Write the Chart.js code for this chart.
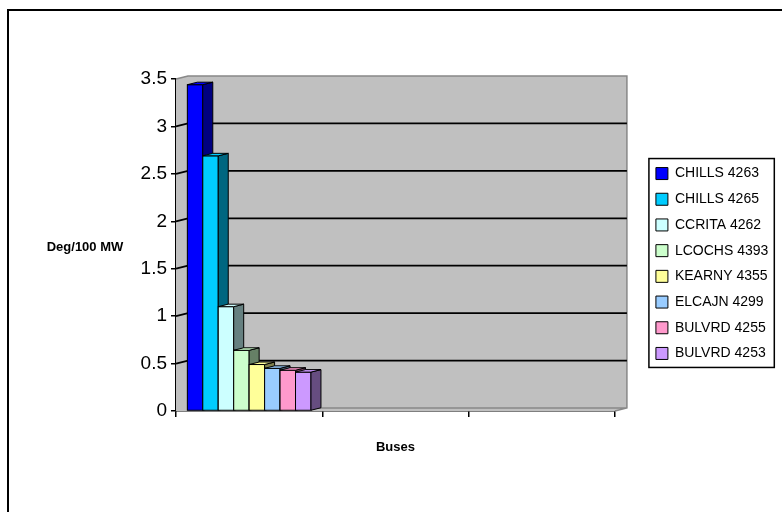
<!DOCTYPE html>
<html>
<head>
<meta charset="utf-8">
<script src="https://cdn.jsdelivr.net/npm/chart.js@4.4.0/dist/chart.umd.min.js"></script>
<style>
html, body { margin: 0; padding: 0; background: #fff; }
#wrap { position: relative; width: 782px; height: 512px; overflow: hidden; }
#frame { position: absolute; left: 7px; top: 9px; width: 800px; height: 600px;
         border-left: 2px solid #000; border-top: 2px solid #000; }
canvas { position: absolute; left: 0; top: 0; }
</style>
</head>
<body>
<div id="wrap">
  <div id="frame"></div>
  <canvas id="chartGraph" width="782" height="512"></canvas>
</div>
<script>
// data
const categories = ['', '', ''];
const busNames = ['CHILLS 4263', 'CHILLS 4265', 'CCRITA 4262', 'LCOCHS 4393',
                  'KEARNY 4355', 'ELCAJN 4299', 'BULVRD 4255', 'BULVRD 4253'];
const busValues = [3.44, 2.69, 1.10, 0.64, 0.49, 0.45, 0.43, 0.41];
const yMin = 0;
const yMax = 3.5;
const yStep = 0.5;
const xTitle = 'Buses';
const yTitle = 'Deg/100 MW';

// palette (front face / dark side face)
const frontColors = ['#0000ff', '#00ccff', '#ccffff', '#ccffcc', '#ffff99', '#99ccff', '#ff99cc', '#cc99ff'];
const sideColors  = ['#000080', '#006680', '#668080', '#668066', '#80804d', '#4d6680', '#804d66', '#664d80'];

const FONT = "'Liberation Sans', Arial, sans-serif";
const ctx = document.getElementById('chartGraph');

// 3D look: back wall + gridlines behind bars
const wallDX = 12, wallDY = 3;
const barDX = 10, barDY = 2.5;

const wallPlugin = {
  id: 'wall3d',
  beforeDatasetsDraw(chart) {
    const c = chart.ctx;
    const a = chart.chartArea;
    const y = chart.scales.y;
    c.save();
    c.fillStyle = '#c0c0c0';
    c.beginPath();
    c.moveTo(a.left, a.top);
    c.lineTo(a.left + wallDX, a.top - wallDY);
    c.lineTo(a.right + wallDX, a.top - wallDY);
    c.lineTo(a.right + wallDX, a.bottom - wallDY);
    c.lineTo(a.right, a.bottom);
    c.lineTo(a.left, a.bottom);
    c.closePath();
    c.fill();

    c.strokeStyle = '#888';
    c.lineWidth = 1.5;
    c.beginPath();
    c.moveTo(a.left, a.top);
    c.lineTo(a.left + wallDX, a.top - wallDY);
    c.lineTo(a.right + wallDX, a.top - wallDY);
    c.lineTo(a.right + wallDX, a.bottom - wallDY);
    c.lineTo(a.right, a.bottom);
    c.moveTo(a.left + wallDX, a.bottom - wallDY);
    c.lineTo(a.right + wallDX, a.bottom - wallDY);
    c.stroke();

    c.strokeStyle = '#000';
    c.lineWidth = 1.8;
    y.ticks.forEach((t) => {
      if (t.value <= yMin || t.value >= yMax) return;
      const py = y.getPixelForValue(t.value);
      c.beginPath();
      c.moveTo(a.left, py);
      c.lineTo(a.left + wallDX, py - wallDY);
      c.lineTo(a.right + wallDX, py - wallDY);
      c.stroke();
    });
    c.restore();
  },
  afterDatasetsDraw(chart) {
    const c = chart.ctx;
    c.save();
    c.strokeStyle = '#000';
    c.lineWidth = 1;
    chart.data.datasets.forEach((ds, i) => {
      const meta = chart.getDatasetMeta(i);
      meta.data.forEach((bar, j) => {
        if (ds.data[j] == null) return;
        const p = bar.getProps(['x', 'y', 'base', 'width'], true);
        const l = p.x - p.width / 2, r = p.x + p.width / 2;
        // front
        c.fillStyle = frontColors[i];
        c.fillRect(l, p.y, p.width, p.base - p.y);
        c.strokeRect(l, p.y, p.width, p.base - p.y);
        // side
        c.fillStyle = sideColors[i];
        c.beginPath();
        c.moveTo(r, p.y);
        c.lineTo(r + barDX, p.y - barDY);
        c.lineTo(r + barDX, p.base - barDY);
        c.lineTo(r, p.base);
        c.closePath();
        c.fill();
        c.stroke();
        // top
        c.fillStyle = frontColors[i];
        c.beginPath();
        c.moveTo(l, p.y);
        c.lineTo(l + barDX, p.y - barDY);
        c.lineTo(r + barDX, p.y - barDY);
        c.lineTo(r, p.y);
        c.closePath();
        c.fill();
        c.stroke();
      });
    });
    c.restore();
  },
  afterLayout(chart) {
    // move the legend away from the plot and around the middle
    const lg = chart.legend;
    const a = chart.chartArea;
    const pad = lg.options.labels.padding;
    const dx = (a.right + 41) - (lg.left + pad);
    const h = lg.columnSizes[0].height;
    const yStart = (lg.top + pad + lg.bottom - h) / 2;
    const wanted = (a.top + a.bottom) / 2 + 18.5 - (h - pad) / 2;
    const dy = wanted - yStart;
    lg.left += dx; lg.right += dx;
    lg.top += dy; lg.bottom += dy;
  },
  afterDraw(chart) {
    const c = chart.ctx;
    const a = chart.chartArea;
    const lg = chart.legend;
    const pad = lg.options.labels.padding;
    const h = lg.columnSizes[0].height;
    const yStart = (lg.top + pad + lg.bottom - h) / 2;
    const bx = lg.left + pad - 7;
    c.save();
    c.strokeStyle = '#000';
    c.lineWidth = 1.5;
    c.strokeRect(bx, yStart - 8, lg.right - 4 - bx, h - pad + 15);
    c.fillStyle = '#000';
    c.font = 'bold 13px ' + FONT;
    c.textAlign = 'center';
    c.textBaseline = 'middle';
    c.fillText(yTitle, a.left - 91, (a.top + a.bottom) / 2 + 2);
    c.restore();
  }
};

const myChart = new Chart(ctx, {
  type: 'bar',
  data: {
    labels: categories,
    datasets: busNames.map((name, i) => ({
      label: name,
      data: categories.map((_, j) => (j === 0 ? busValues[i] : null)),
      backgroundColor: frontColors[i],
      borderColor: '#000',
      borderWidth: 1,
      categoryPercentage: 0.845,
      barPercentage: 1
    }))
  },
  options: {
    responsive: false,
    animation: false,
    devicePixelRatio: 1,
    layout: { padding: { left: 0, right: 33, top: 79, bottom: 0 } },
    scales: {
      x: {
        grid: { display: true, drawOnChartArea: false, drawTicks: true, tickLength: 6, color: '#000', lineWidth: 1.5, offset: true },
        border: { display: true, color: '#000', width: 1.5 },
        ticks: { display: true, font: { family: FONT, size: 12 } },
        title: { display: true, text: xTitle, color: '#000', font: { family: FONT, size: 13, weight: 'bold' }, padding: { top: 0, bottom: 57 } },
        afterFit: (s) => { s.height = 101; }
      },
      y: {
        min: yMin,
        max: yMax,
        ticks: {
          stepSize: yStep,
          color: '#000',
          padding: 4,
          font: { family: FONT, size: 19 },
          callback: (v) => String(v)
        },
        grid: { display: true, drawOnChartArea: false, drawTicks: true, tickLength: 5, color: '#000', lineWidth: 1.5 },
        border: { display: true, color: '#000', width: 1.5 },
        afterFit: (s) => { s.width = 176; }
      }
    },
    plugins: {
      tooltip: { enabled: false },
      legend: {
        position: 'right',
        labels: {
          color: '#000',
          boxWidth: 12,
          boxHeight: 12,
          padding: 11.7,
          font: { family: FONT, size: 14 }
        }
      }
    }
  },
  plugins: [wallPlugin]
});
</script>
</body>
</html>
